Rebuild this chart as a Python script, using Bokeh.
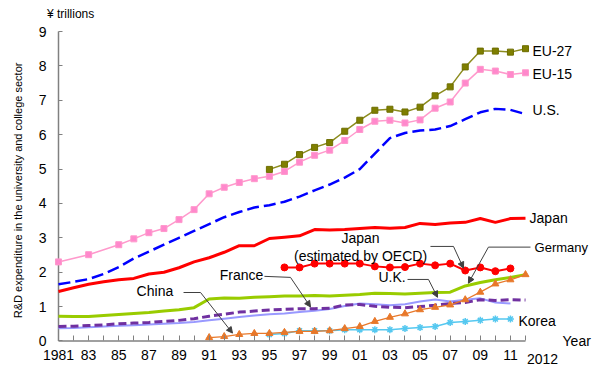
import numpy as np
from bokeh.plotting import figure
from bokeh.models import Range1d, FixedTicker, Label, Arrow, NormalHead
from bokeh.embed import file_html
from bokeh.resources import INLINE

# ---------------- data (¥ trillions) ----------------
years_all = list(range(1981, 2013))
tick_labels = {y: ("1981" if y == 1981 else (f"{y % 100:02d}" if y % 2 == 1 else "")) for y in years_all}
y_ticks = list(range(0, 10))

eu27_years = list(range(1995, 2013))
eu27 = [4.99, 5.14, 5.42, 5.63, 5.77, 6.10, 6.42, 6.71, 6.74, 6.66, 6.80, 7.13, 7.39, 7.97, 8.43, 8.43, 8.40, 8.50]

eu15_years = [1981, 1983] + list(range(1985, 2013))
eu15 = [2.30, 2.51, 2.80, 2.97, 3.15, 3.27, 3.53, 3.82, 4.28, 4.47, 4.61, 4.72, 4.79, 4.93, 5.20, 5.40,
        5.55, 5.83, 6.15, 6.39, 6.42, 6.34, 6.43, 6.77, 6.95, 7.50, 7.90, 7.85, 7.75, 7.80]

us_years = list(range(1981, 2013))
us = [1.65, 1.72, 1.80, 1.95, 2.15, 2.40, 2.60, 2.80, 3.00, 3.20, 3.40, 3.60, 3.75, 3.88, 3.95, 4.05,
      4.20, 4.38, 4.55, 4.75, 5.00, 5.45, 5.90, 6.05, 6.12, 6.15, 6.25, 6.45, 6.65, 6.75, 6.72, 6.60]

japan_years = list(range(1981, 2013))
japan = [1.44, 1.55, 1.65, 1.72, 1.78, 1.82, 1.95, 2.00, 2.13, 2.30, 2.42, 2.58, 2.77, 2.77, 2.98, 3.02,
         3.06, 3.24, 3.23, 3.24, 3.27, 3.30, 3.28, 3.30, 3.42, 3.39, 3.43, 3.45, 3.56, 3.45, 3.56, 3.57]

japan_oecd_years = list(range(1996, 2012))
japan_oecd = [2.14, 2.14, 2.25, 2.25, 2.25, 2.25, 2.17, 2.14, 2.15, 2.25, 2.20, 2.25, 2.05, 2.14, 2.03, 2.11]

germany_years = list(range(1981, 2013))
germany = [0.72, 0.71, 0.71, 0.74, 0.77, 0.80, 0.83, 0.87, 0.91, 0.97, 1.22, 1.25, 1.24, 1.27, 1.29, 1.31,
           1.31, 1.32, 1.31, 1.33, 1.35, 1.39, 1.38, 1.37, 1.39, 1.41, 1.42, 1.60, 1.70, 1.78, 1.85, 1.93]

france_years = list(range(1981, 2013))
france = [0.42, 0.43, 0.45, 0.47, 0.50, 0.52, 0.54, 0.57, 0.60, 0.65, 0.72, 0.78, 0.84, 0.87, 0.90, 0.92,
          0.94, 0.94, 0.95, 1.05, 1.06, 1.01, 0.98, 0.97, 1.00, 1.04, 1.09, 1.12, 1.20, 1.18, 1.20, 1.19]

uk_years = list(range(1981, 2012))
uk = [0.37, 0.38, 0.40, 0.42, 0.44, 0.46, 0.48, 0.50, 0.52, 0.55, 0.60, 0.65, 0.70, 0.74, 0.78, 0.80,
      0.84, 0.88, 0.93, 1.02, 1.09, 1.07, 1.04, 1.07, 1.15, 1.21, 1.15, 1.20, 1.24, 1.12, 1.09]

china_years = list(range(1991, 2013))
china = [0.10, 0.13, 0.19, 0.22, 0.22, 0.25, 0.28, 0.28, 0.30, 0.36, 0.42, 0.57, 0.69, 0.79, 0.91, 0.98,
         1.05, 1.20, 1.42, 1.66, 1.78, 1.93]

korea_years = list(range(1995, 2012))
korea = [0.19, 0.22, 0.30, 0.30, 0.30, 0.33, 0.33, 0.33, 0.33, 0.36, 0.39, 0.42, 0.54, 0.57, 0.60, 0.64, 0.64]

FONT = "Liberation Sans"
AXIS_GREY = "#808080"
LEADER = "#404040"

# The frame fills the whole canvas; axes sit at fixed locations inside it
p = figure(width=596, height=378, output_backend="svg", toolbar_location=None,
           x_range=Range1d(1977.150, 2016.713), y_range=Range1d(-1.0905, 9.9015),
           min_border=0, min_border_left=0, min_border_right=0, min_border_top=0, min_border_bottom=0)
p.outline_line_color = None
p.grid.visible = False

# axes
p.xaxis.fixed_location = 0
p.xaxis.ticker = FixedTicker(ticks=years_all)
p.xaxis.major_label_overrides = tick_labels
p.xaxis.axis_line_color = None
p.xaxis.major_tick_in = 5
p.xaxis.major_tick_out = 0
p.xaxis.minor_tick_line_color = None
p.xaxis.major_tick_line_color = AXIS_GREY
p.xaxis.major_label_standoff = 9
p.xaxis.major_label_text_font = FONT
p.xaxis.major_label_text_font_size = "14px"
p.xaxis.major_label_text_color = "black"

p.yaxis.fixed_location = 1981
p.yaxis.ticker = FixedTicker(ticks=y_ticks)
p.yaxis.axis_line_color = None
p.yaxis.major_tick_in = 4
p.yaxis.major_tick_out = 0
p.yaxis.minor_tick_line_color = None
p.yaxis.major_tick_line_color = AXIS_GREY
p.yaxis.major_label_standoff = 12
p.yaxis.major_label_text_font = FONT
p.yaxis.major_label_text_font_size = "14px"
p.yaxis.major_label_text_color = "black"

# axis lines spanning the data extent
p.segment(x0=[years_all[0], years_all[0]], y0=[y_ticks[0], y_ticks[0]],
          x1=[years_all[-1], years_all[0]], y1=[y_ticks[0], y_ticks[-1]],
          line_color=AXIS_GREY, line_width=1.5)

# series
p.line(korea_years, korea, line_color="#55C8F0", line_width=1.5)
p.scatter(korea_years, korea, marker="asterisk", size=7, line_color="#55C8F0", line_width=1.5)

p.line(uk_years, uk, line_color="#9999FF", line_width=2)
p.line(france_years, france, line_color="#7030A0", line_width=3, line_dash="8 4")
p.line(germany_years, germany, line_color="#99CC00", line_width=3)

p.line(china_years, china, line_color="#E8782A", line_width=1.3)
p.scatter(china_years, china, marker="triangle", size=7, fill_color="#E8782A", line_color="#E8782A")

p.line(japan_years, japan, line_color="#FF0000", line_width=3)
p.line(japan_oecd_years, japan_oecd, line_color="#FF0000", line_width=2)
p.scatter(japan_oecd_years, japan_oecd, marker="circle", size=7, fill_color="#FF0000", line_color="#FF0000")

p.line(us_years, us, line_color="#0000FF", line_width=2.5, line_dash="12 5")

p.line(eu15_years, eu15, line_color="#FF99CC", line_width=1.5)
p.scatter(eu15_years, eu15, marker="square", size=6, fill_color="#FF88CC", line_color="#FF99CC")

p.line(eu27_years, eu27, line_color="#8C8C1E", line_width=1.5)
p.scatter(eu27_years, eu27, marker="square", size=6, fill_color="#7F7F00", line_color="#6E6E00")

# texts
def lab(x, y, text, align="left", size="14px", angle=0.0):
    p.add_layout(Label(x=x, y=y, text=text, text_align=align, text_baseline="middle",
                       text_font=FONT, text_font_size=size, text_color="black", angle=angle))

lab(2012.46, 8.42, "EU-27")
lab(2012.46, 7.75, "EU-15")
lab(2012.46, 6.73, "U.S.")
lab(2012.27, 3.59, "Japan")
lab(2012.6, 2.72, "Germany", size="13px")
lab(2001.05, 3.00, "Japan", align="center")
lab(2001.05, 2.46, "(estimated by OECD)", align="center")
lab(2003.14, 1.85, "U.K.", align="center")
lab(1993.15, 1.93, "France", align="center")
lab(1987.4, 1.44, "China", align="center")
lab(2011.53, 0.57, "Korea")
lab(2014.46, 0.0, "Year")
lab(2013.13, -0.51, "2012", align="center")
lab(1981.8, 9.52, "¥ trillions", align="center", size="12px")
lab(1978.34, 4.38, "R&D expenditure in the university and college sector", align="center",
    size="11px", angle=np.pi / 2)

# leader lines
def leader(pts):
    for (xa, ya), (xb, yb) in zip(pts[:-2], pts[1:-1]):
        p.add_layout(Arrow(end=None, x_start=xa, y_start=ya, x_end=xb, y_end=yb,
                           line_color=LEADER, line_width=1))
    (xa, ya), (xb, yb) = pts[-2], pts[-1]
    p.add_layout(Arrow(end=NormalHead(size=6, fill_color=LEADER, line_color=LEADER),
                       x_start=xa, y_start=ya, x_end=xb, y_end=yb, line_color=LEADER, line_width=1))

leader([(2005.69, 2.75), (2007.22, 2.75), (2007.88, 2.12)])
leader([(2012.33, 2.73), (2009.54, 2.73), (2008.21, 1.68)])
leader([(2004.17, 1.79), (2005.56, 1.79), (2006.16, 1.27)])
leader([(1994.67, 1.88), (1996.4, 1.85), (1997.73, 0.99)])
leader([(1989.3, 1.41), (1990.43, 1.41), (1992.55, 0.23)])

open("out.html", "w").write(file_html(p, INLINE))
